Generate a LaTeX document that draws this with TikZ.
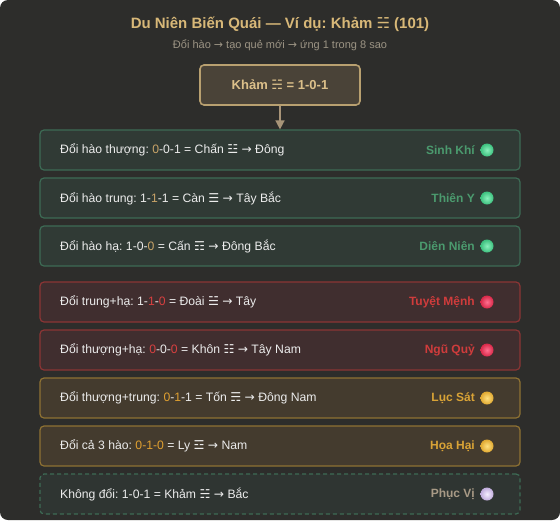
\documentclass[tikz,border=0pt]{standalone}
\usepackage{fontspec}
\setmainfont{Liberation Sans}
\newfontfamily\symf{DejaVu Sans}
\usetikzlibrary{arrows.meta,shadings}
\frenchspacing
\definecolor{bgc}{HTML}{2D2D2B}
\definecolor{titlec}{HTML}{D8B878}
\definecolor{subc}{HTML}{9C9484}
\definecolor{topfill}{HTML}{4A4338}
\definecolor{topdraw}{HTML}{B8A070}
\definecolor{toptext}{HTML}{DCC08A}
\definecolor{arrc}{HTML}{A89478}
\definecolor{gfill}{HTML}{303A35}
\definecolor{gdraw}{HTML}{3D6B55}
\definecolor{glab}{HTML}{4B9A6E}
\definecolor{rfill}{HTML}{402E2F}
\definecolor{rdraw}{HTML}{8B3535}
\definecolor{rlab}{HTML}{D03C3C}
\definecolor{yfill}{HTML}{443B2E}
\definecolor{ydraw}{HTML}{8E7233}
\definecolor{ylab}{HTML}{D9A336}
\definecolor{nfill}{HTML}{2F3532}
\definecolor{nlab}{HTML}{A89A86}
\definecolor{txt}{HTML}{ECECEC}
\definecolor{hig}{HTML}{C9A468}
\definecolor{hir}{HTML}{D84040}
\definecolor{hiy}{HTML}{E0A030}
\definecolor{dgi}{HTML}{8AF0BC}\definecolor{dgo}{HTML}{3CC07E}
\definecolor{dri}{HTML}{FF7090}\definecolor{dro}{HTML}{D82848}
\definecolor{dyi}{HTML}{FFE080}\definecolor{dyo}{HTML}{E0A830}
\definecolor{dni}{HTML}{F4EEFF}\definecolor{dno}{HTML}{C0ACDC}
\newcommand{\tg}[1]{{\symf #1}}
\newcommand{\ar}{{\symf →}}
\tikzset{
  rowbox/.style={rounded corners=4pt, minimum width=480pt, minimum height=40pt, line width=1.2pt, inner sep=0pt},
  greenbox/.style={rowbox, fill=gfill, draw=gdraw},
  redbox/.style={rowbox, fill=rfill, draw=rdraw},
  goldbox/.style={rowbox, fill=yfill, draw=ydraw},
  neutralbox/.style={rowbox, fill=nfill, draw=gdraw, dash pattern=on 4pt off 3pt},
  ltext/.style={anchor=west, text=txt, font=\fontsize{12.2}{14}\selectfont, inner sep=0pt},
  rlabel/.style={anchor=east, font=\fontsize{12}{14}\selectfont\bfseries, inner sep=0pt},
  dotball/.style={circle, minimum size=13pt, inner sep=0pt},
}
\begin{document}
\begin{tikzpicture}[x=1pt,y=-1pt]
\useasboundingbox (0,0) rectangle (560,520);
\fill[white] (0,0) rectangle (560,520);
\fill[bgc, rounded corners=8pt] (0,0) rectangle (560,520);

\node[text=titlec, font=\fontsize{15}{17}\selectfont\bfseries] (title) at (280,24) {Du Niên Biến Quái — Ví dụ: Khảm \tg{☵} (101)};
\node[text=subc, font=\fontsize{11}{13}\selectfont] (sub) at (280,45) {Đổi hào \ar{} tạo quẻ mới \ar{} ứng 1 trong 8 sao};

\node[rounded corners=4pt, fill=topfill, draw=topdraw, line width=1.6pt, minimum width=160pt, minimum height=40pt, text=toptext, font=\fontsize{13}{15}\selectfont\bfseries] (top) at (280,85) {Khảm \tg{☵} = 1-0-1};

% rows
\node[greenbox] (r1) at (280,150) {};
\node[greenbox] (r2) at (280,198) {};
\node[greenbox] (r3) at (280,246) {};
\node[redbox] (r4) at (280,302) {};
\node[redbox] (r5) at (280,350) {};
\node[goldbox] (r6) at (280,398) {};
\node[goldbox] (r7) at (280,446) {};
\node[neutralbox] (r8) at (280,494) {};

\draw[arrc, line width=1.5pt, -{Triangle[length=9pt,width=9pt]}] (top.south) -- (r1.north);

\node[ltext] (t1) at (60,150) {Đổi hào thượng: \textcolor{hig}{0}-0-1 = Chấn \tg{☳} \ar{} Đông};
\node[ltext] (t2) at (60,198) {Đổi hào trung: 1-\textcolor{hig}{1}-1 = Càn \tg{☰} \ar{} Tây Bắc};
\node[ltext] (t3) at (60,246) {Đổi hào hạ: 1-0-\textcolor{hig}{0} = Cấn \tg{☶} \ar{} Đông Bắc};
\node[ltext] (t4) at (60,302) {Đổi trung+hạ: 1-\textcolor{hir}{1}-\textcolor{hir}{0} = Đoài \tg{☱} \ar{} Tây};
\node[ltext] (t5) at (60,350) {Đổi thượng+hạ: \textcolor{hir}{0}-0-\textcolor{hir}{0} = Khôn \tg{☷} \ar{} Tây Nam};
\node[ltext] (t6) at (60,398) {Đổi thượng+trung: \textcolor{hiy}{0}-\textcolor{hiy}{1}-1 = Tốn \tg{☴} \ar{} Đông Nam};
\node[ltext] (t7) at (60,446) {Đổi cả 3 hào: \textcolor{hiy}{0-1-0} = Ly \tg{☲} \ar{} Nam};
\node[ltext] (t8) at (60,494) {Không đổi: 1-0-1 = Khảm \tg{☵} \ar{} Bắc};

\node[rlabel, text=glab] (l1) at (475,150) {Sinh Khí};
\node[rlabel, text=glab] (l2) at (475,198) {Thiên Y};
\node[rlabel, text=glab] (l3) at (475,246) {Diên Niên};
\node[rlabel, text=rlab] (l4) at (475,302) {Tuyệt Mệnh};
\node[rlabel, text=rlab] (l5) at (475,350) {Ngũ Quỷ};
\node[rlabel, text=ylab] (l6) at (475,398) {Lục Sát};
\node[rlabel, text=ylab] (l7) at (475,446) {Họa Hại};
\node[rlabel, text=nlab] (l8) at (475,494) {Phục Vị};

\node[dotball, inner color=dgi, outer color=dgo] (d1) at (487,150) {};
\node[dotball, inner color=dgi, outer color=dgo] (d2) at (487,198) {};
\node[dotball, inner color=dgi, outer color=dgo] (d3) at (487,246) {};
\node[dotball, inner color=dri, outer color=dro] (d4) at (487,302) {};
\node[dotball, inner color=dri, outer color=dro] (d5) at (487,350) {};
\node[dotball, inner color=dyi, outer color=dyo] (d6) at (487,398) {};
\node[dotball, inner color=dyi, outer color=dyo] (d7) at (487,446) {};
\node[dotball, inner color=dni, outer color=dno] (d8) at (487,494) {};
\end{tikzpicture}
\end{document}
